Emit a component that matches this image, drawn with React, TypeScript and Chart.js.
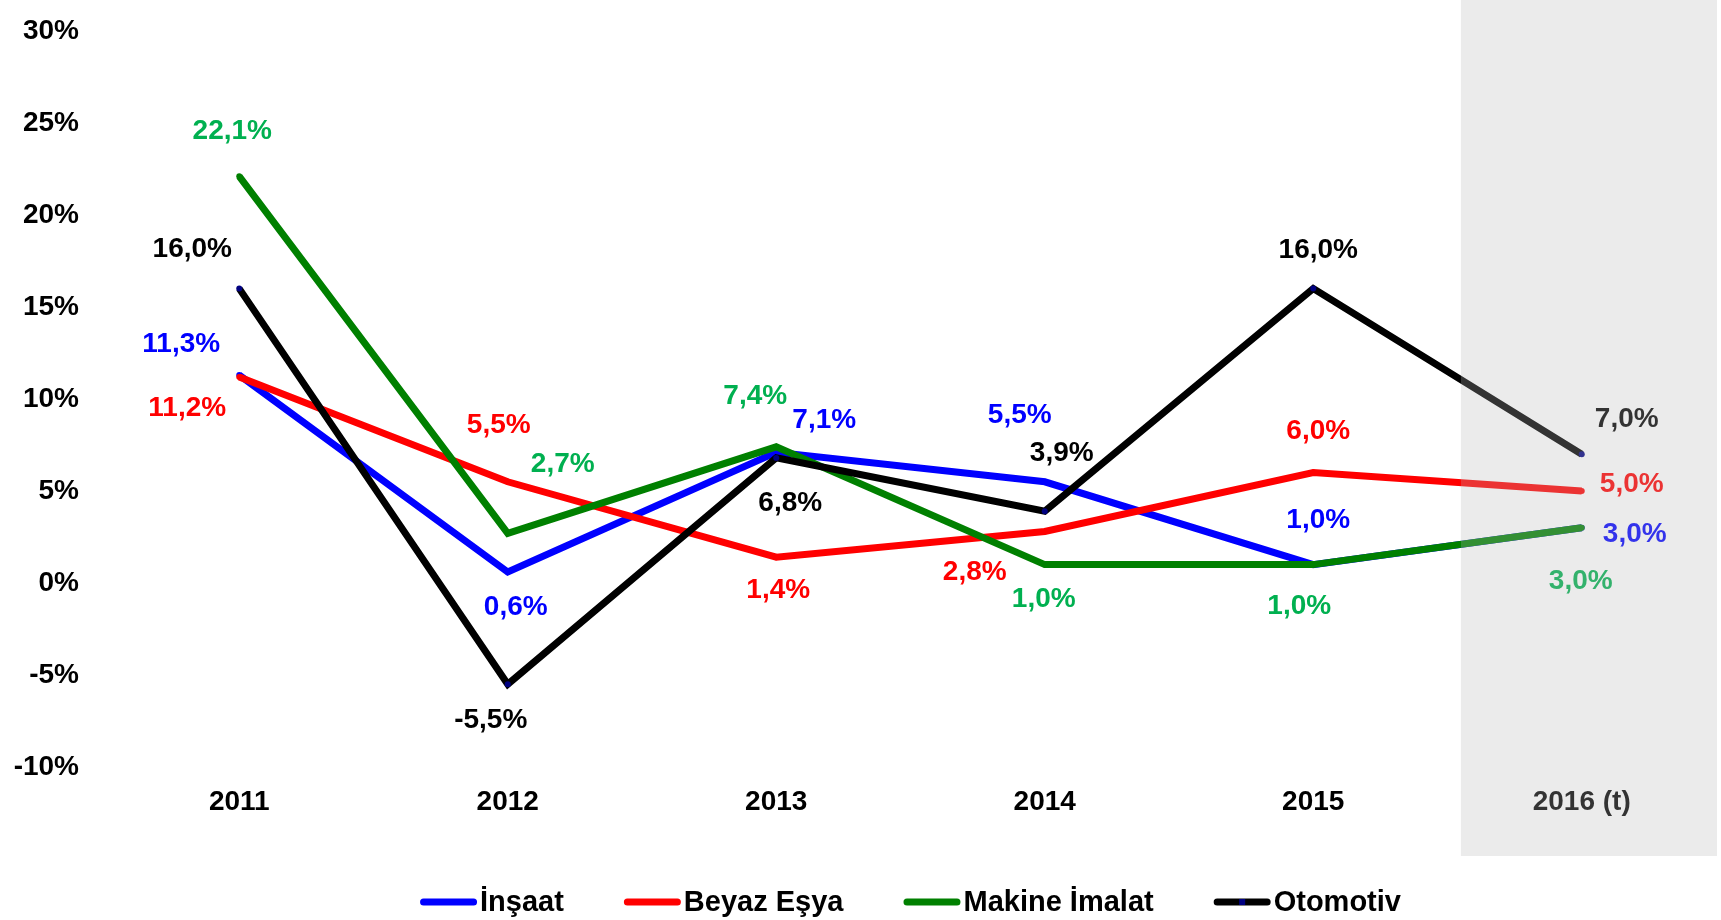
import React, { useEffect, useRef } from "react";
import { Chart, registerables } from "chart.js";

Chart.register(...registerables);

const categories = ["2011", "2012", "2013", "2014", "2015", "2016 (t)"];
const insaat = [11.3, 0.6, 7.1, 5.5, 1.0, 3.0];
const beyazEsya = [11.2, 5.5, 1.4, 2.8, 6.0, 5.0];
const makineImalat = [22.1, 2.7, 7.4, 1.0, 1.0, 3.0];
const otomotiv = [16.0, -5.5, 6.8, 3.9, 16.0, 7.0];
const seriesNames = ["İnşaat", "Beyaz Eşya", "Makine İmalat", "Otomotiv"];

// label placement offsets (label centre relative to point, px)
const labelOffsets: number[][][] = [
  [[-58, -31], [8, 35], [48, -32], [-25, -67], [5, -44], [53, 6]],
  [[-52, 31], [-9, -57], [2, 33], [-70, 41], [5, -41], [50, -7]],
  [[-7, -45], [55, -69], [-21, -51], [-1, 35], [-14, 42], [-1, 53]],
  [[-47, -39], [-17, 36], [14, 45], [17, -58], [5, -38], [45, -35]],
];
const lineColors = ["#0000FF", "#FF0000", "#008000", "#000000"];
const labelColors = ["#0000FF", "#FF0000", "#00B050", "#000000"];
const pointColors = ["#0000FF", "#FF0000", "#008000", "#000080"];

const FONT = "'Liberation Sans', Arial, sans-serif";

const fmt = (v: number) => v.toFixed(1).replace(".", ",") + "%";

const labelsPlugin = {
  id: "valueLabels",
  afterDatasetsDraw(chart: any) {
    const ctx = chart.ctx;
    ctx.save();
    ctx.font = `bold 28px ${FONT}`;
    ctx.textAlign = "center";
    ctx.textBaseline = "middle";
    chart.data.datasets.forEach((ds: any, i: number) => {
      const meta = chart.getDatasetMeta(i);
      meta.data.forEach((pt: any, j: number) => {
        const off = labelOffsets[i][j];
        ctx.fillStyle = labelColors[i];
        ctx.fillText(fmt(ds.data[j]), pt.x + off[0], pt.y + off[1]);
      });
    });
    ctx.restore();
  },
};

const overlayLegendPlugin = {
  id: "overlayLegend",
  afterDraw(chart: any) {
    const ctx = chart.ctx;
    const xs = chart.scales.x;
    const area = chart.chartArea;
    const step = xs.getPixelForValue(1) - xs.getPixelForValue(0);
    const x0 = xs.getPixelForValue(categories.length - 1) - step * 0.45;
    ctx.save();
    ctx.fillStyle = "rgba(183,183,183,0.28)";
    ctx.fillRect(x0, 0, area.right + 1 - x0, area.bottom + 89);

    // legend
    ctx.font = `bold 29px ${FONT}`;
    ctx.textBaseline = "middle";
    ctx.textAlign = "left";
    const lineLen = 57;
    const gapText = 3;
    const gapItems = 60;
    const widths = seriesNames.map((n) => ctx.measureText(n).width);
    const total =
      widths.reduce((a, w) => a + lineLen + gapText + w, 0) +
      gapItems * (seriesNames.length - 1);
    let x = (area.left + area.right) / 2 - total / 2;
    const y = 902;
    seriesNames.forEach((n, i) => {
      ctx.strokeStyle = lineColors[i];
      ctx.lineWidth = 7;
      ctx.lineCap = "round";
      ctx.beginPath();
      ctx.moveTo(x + 3.5, y);
      ctx.lineTo(x + lineLen - 3.5, y);
      ctx.stroke();
      if (i === 3) {
        ctx.fillStyle = "#000080";
        ctx.fillRect(x + lineLen / 2 - 3, y - 3, 6, 6);
      }
      ctx.fillStyle = "#000000";
      ctx.fillText(n, x + lineLen + gapText, y + 1);
      x += lineLen + gapText + widths[i] + gapItems;
    });
    ctx.restore();
  },
};

export default function App() {
  const ref = useRef<HTMLCanvasElement | null>(null);
  useEffect(() => {
    document.body.style.margin = "0";
    const seriesData = [insaat, beyazEsya, makineImalat, otomotiv];
    const chart = new Chart(ref.current as HTMLCanvasElement, {
      type: "line",
      data: {
        labels: categories,
        datasets: seriesData.map((d, i) => ({
          label: seriesNames[i],
          data: d,
          order: seriesData.length - i,
          borderColor: lineColors[i],
          backgroundColor: lineColors[i],
          borderWidth: 7,
          pointRadius: 3,
          pointBorderWidth: 0,
          pointBackgroundColor: pointColors[i],
          pointHoverRadius: 3,
          tension: 0,
          fill: false,
        })),
      },
      options: {
        animation: false,
        responsive: false,
        layout: { padding: { top: 31, right: 5, left: 0, bottom: 93 } },
        plugins: {
          legend: { display: false },
          tooltip: { enabled: false },
        },
        scales: {
          x: {
            type: "category",
            offset: true,
            grid: { display: false, drawTicks: false },
            border: { display: false },
            ticks: {
              color: "#000000",
              font: { family: FONT, size: 28, weight: "bold" },
              padding: 18,
              maxRotation: 0,
              autoSkip: false,
            },
            afterFit: (s: any) => {
              s.height = 60;
              s.paddingLeft = 0;
              s.paddingRight = 0;
            },
          },
          y: {
            min: -10,
            max: 30,
            grid: { display: false, drawTicks: false },
            border: { display: false },
            ticks: {
              stepSize: 5,
              color: "#000000",
              font: { family: FONT, size: 28, weight: "bold" },
              padding: 26,
              callback: (v: any) => `${v}%`,
            },
            afterFit: (s: any) => {
              s.width = 105;
              s.paddingTop = 0;
              s.paddingBottom = 0;
            },
          },
        },
      },
      plugins: [labelsPlugin, overlayLegendPlugin],
    });
    return () => chart.destroy();
  }, []);
  return (
    <div style={{ width: 1721, height: 920 }}>
      <canvas ref={ref} width={1721} height={920} />
    </div>
  );
}
